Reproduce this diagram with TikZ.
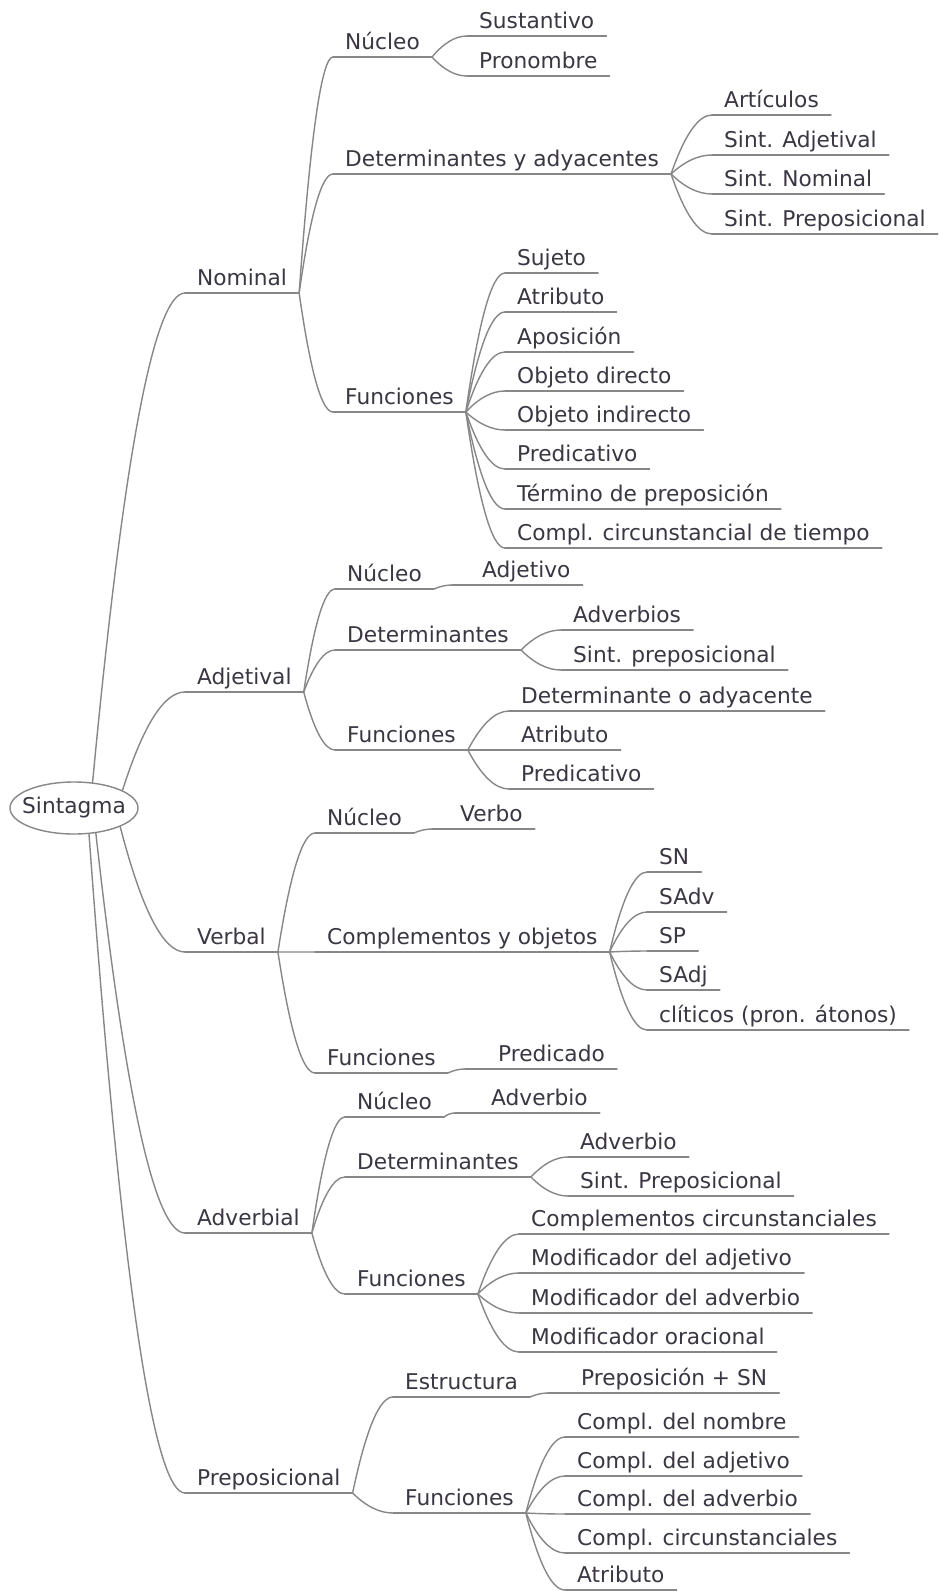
\documentclass[tikz,border=0pt]{standalone}
\usepackage{fontspec}
\setmainfont{DejaVu Sans}
\usetikzlibrary{calc,shapes.geometric}
\definecolor{ink}{RGB}{58,54,66}
\definecolor{wire}{RGB}{135,135,135}
\newcommand{\lblfont}{\fontsize{21.7}{26}\selectfont}
\begin{document}
\begin{tikzpicture}[x=1pt,y=-1pt,
  ln/.style={draw=wire, line width=1.4pt, line cap=round},
  lbl/.style={anchor=south west, inner xsep=12pt, inner ysep=2.5pt, text height=15pt, text depth=5pt, font=\lblfont, text=ink},
  lgap/.style={execute at begin node={\hskip#1pt}},
  para/.style={to path={let \p1=(\tikztostart), \p2=(\tikztotarget) in .. controls ({\x1*2/3+\x2/3},{\y1/3+\y2*2/3}) and ({\x1/3+\x2*2/3},\y2) .. (\tikztotarget)}},
]
\fill[white] (0,0) rectangle (938,1591);
\useasboundingbox (0,0) rectangle (938,1591);

\node[draw=wire, line width=1.4pt, fill=white, ellipse, minimum width=128pt, minimum height=52pt, inner xsep=-6.7pt, inner ysep=0pt, font=\lblfont, text=ink] (root) at (74,808) {Sintagma};

% Nominal
\node[lbl] (nom) at (185,293) {Nominal};
\node[lbl] (nnuc) at (333,57) {Núcleo};
\node[lbl] (nsus) at (467,36) {Sustantivo};
\node[lbl] (npro) at (467,76) {Pronombre};
\node[lbl] (ndet) at (333,174) {Determinantes y adyacentes};
\node[lbl] (nart) at (712,115) {Artículos};
\node[lbl] (nsadj) at (712,155) {Sint. Adjetival};
\node[lbl] (nsnom) at (712,194) {Sint. Nominal};
\node[lbl] (nsprep) at (712,234) {Sint. Preposicional};
\node[lbl] (nfun) at (333,412) {Funciones};
\node[lbl] (nsuj) at (505,273) {Sujeto};
\node[lbl] (natr) at (505,312) {Atributo};
\node[lbl] (napo) at (505,352) {Aposición};
\node[lbl] (nod) at (505,391) {Objeto directo};
\node[lbl] (noi) at (505,430) {Objeto indirecto};
\node[lbl] (npred) at (505,469) {Predicativo};
\node[lbl] (nterm) at (505,509) {Término de preposición};
\node[lbl] (nccirc) at (505,548) {Compl. circunstancial de tiempo};

% Adjetival
\node[lbl] (adj) at (185,692) {Adjetival};
\node[lbl] (anuc) at (335,589) {Núcleo};
\node[lbl, lgap=18] (aadj) at (452,585) {Adjetivo};
\node[lbl] (adet) at (335,650) {Determinantes};
\node[lbl] (aadv) at (561,630) {Adverbios};
\node[lbl] (asprep) at (561,670) {Sint. preposicional};
\node[lbl] (afun) at (335,750) {Funciones};
\node[lbl] (adoa) at (509,711) {Determinante o adyacente};
\node[lbl] (aatr) at (509,750) {Atributo};
\node[lbl] (apred) at (509,789) {Predicativo};

% Verbal
\node[lbl] (verb) at (185,952) {Verbal};
\node[lbl] (vnuc) at (315,833) {Núcleo};
\node[lbl, lgap=16] (vverbo) at (432,829) {Verbo};
\node[lbl] (vcomp) at (315,952) {Complementos y objetos};
\node[lbl] (vsn) at (647,872) {SN};
\node[lbl] (vsadv) at (647,912) {SAdv};
\node[lbl] (vsp) at (647,951) {SP};
\node[lbl] (vsadj) at (647,990) {SAdj};
\node[lbl] (vcli) at (647,1030) {clíticos (pron. átonos)};
\node[lbl] (vfun) at (315,1073) {Funciones};
\node[lbl, lgap=21] (vpred) at (465,1069) {Predicado};

% Adverbial
\node[lbl] (adv) at (185,1233) {Adverbial};
\node[lbl] (dnuc) at (345,1117) {Núcleo};
\node[lbl, lgap=24] (dadv1) at (455,1113) {Adverbio};
\node[lbl] (ddet) at (345,1177) {Determinantes};
\node[lbl] (dadv2) at (568,1157) {Adverbio};
\node[lbl] (dsprep) at (568,1196) {Sint. Preposicional};
\node[lbl] (dfun) at (345,1294) {Funciones};
\node[lbl] (dcc) at (519,1234) {Complementos circunstanciales};
\node[lbl] (dmadj) at (519,1273) {Modificador del adjetivo};
\node[lbl] (dmadv) at (519,1313) {Modificador del adverbio};
\node[lbl] (dmor) at (519,1352) {Modificador oracional};

% Preposicional
\node[lbl] (prep) at (185,1493) {Preposicional};
\node[lbl] (pest) at (393,1397) {Estructura};
\node[lbl, lgap=21] (ppsn) at (548,1393) {Preposición + SN};
\node[lbl] (pfun) at (393,1513) {Funciones};
\node[lbl] (pcn) at (565,1437) {Compl. del nombre};
\node[lbl] (pcadj) at (565,1476) {Compl. del adjetivo};
\node[lbl] (pcadv) at (565,1514) {Compl. del adverbio};
\node[lbl] (pcc) at (565,1553) {Compl. circunstanciales};
\node[lbl] (patr) at (565,1590) {Atributo};

% underlines
\foreach \n in {nom,nnuc,nsus,npro,ndet,nart,nsadj,nsnom,nsprep,nfun,nsuj,natr,napo,nod,noi,npred,nterm,nccirc,
  adj,anuc,aadj,adet,aadv,asprep,afun,adoa,aatr,apred,
  verb,vnuc,vverbo,vcomp,vsn,vsadv,vsp,vsadj,vcli,vfun,vpred,
  adv,dnuc,dadv1,ddet,dadv2,dsprep,dfun,dcc,dmadj,dmadv,dmor,
  prep,pest,ppsn,pfun,pcn,pcadj,pcadv,pcc,patr}
  \draw[ln] (\n.south west) -- (\n.south east);

% root links
\draw[ln] (root.54) to[para] (nom.south west);
\draw[ln] (root.20) to[para] (adj.south west);
\draw[ln] (root.-22) to[para] (verb.south west);
\draw[ln] (root.-49) to[para] (adv.south west);
\draw[ln] (root.-60) to[para] (prep.south west);

% branch links
\foreach \a/\b in {nom/nnuc,nom/ndet,nom/nfun,nnuc/nsus,nnuc/npro,
  ndet/nart,ndet/nsadj,ndet/nsnom,ndet/nsprep,
  nfun/nsuj,nfun/natr,nfun/napo,nfun/nod,nfun/noi,nfun/npred,nfun/nterm,nfun/nccirc,
  adj/anuc,adj/adet,adj/afun,anuc/aadj,adet/aadv,adet/asprep,afun/adoa,afun/aatr,afun/apred,
  verb/vnuc,verb/vcomp,verb/vfun,vnuc/vverbo,vcomp/vsn,vcomp/vsadv,vcomp/vsp,vcomp/vsadj,vcomp/vcli,vfun/vpred,
  adv/dnuc,adv/ddet,adv/dfun,dnuc/dadv1,ddet/dadv2,ddet/dsprep,dfun/dcc,dfun/dmadj,dfun/dmadv,dfun/dmor,
  prep/pest,prep/pfun,pest/ppsn,pfun/pcn,pfun/pcadj,pfun/pcadv,pfun/pcc,pfun/patr}
  \draw[ln] (\a.south east) to[para] (\b.south west);
\end{tikzpicture}
\end{document}
